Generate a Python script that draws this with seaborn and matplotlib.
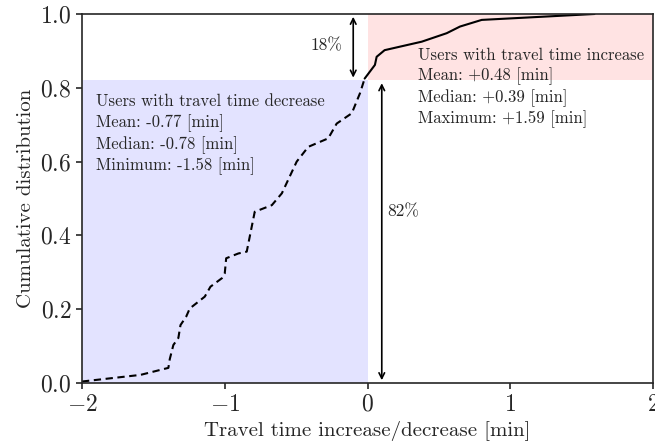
import matplotlib
matplotlib.use("Agg")
import matplotlib.pyplot as plt
import seaborn as sns
import pandas as pd

# data
neg_x = [-2.0, -1.59, -1.395, -1.385, -1.36, -1.325, -1.31, -1.27, -1.245, -1.14, -1.10,
         -1.02, -1.0, -0.99, -0.905, -0.846, -0.79, -0.67, -0.60, -0.496, -0.415,
         -0.275, -0.216, -0.11, -0.053, -0.02]
neg_y = [0.004, 0.022, 0.041, 0.065, 0.103, 0.122, 0.157, 0.18, 0.202, 0.234, 0.261,
         0.284, 0.297, 0.338, 0.351, 0.356, 0.464, 0.482, 0.514, 0.60, 0.64,
         0.663, 0.703, 0.731, 0.785, 0.825]
pos_x = [-0.02, 0.052, 0.064, 0.12, 0.38, 0.555, 0.648, 0.80, 1.59]
pos_y = [0.825, 0.862, 0.884, 0.902, 0.925, 0.948, 0.966, 0.984, 1.0]
share_decrease = 0.82
share_increase = 0.18
dec_lines = ["Users with travel time decrease", "Mean: -0.77 [min]",
             "Median: -0.78 [min]", "Minimum: -1.58 [min]"]
inc_lines = ["Users with travel time increase", "Mean: +0.48 [min]",
             "Median: +0.39 [min]", "Maximum: +1.59 [min]"]

sns.set_style("ticks")
plt.rcParams["font.family"] = ["serif"]
plt.rcParams["font.serif"] = ["cmr10"]
plt.rcParams["mathtext.fontset"] = "cm"
plt.rcParams["axes.formatter.use_mathtext"] = True
plt.rcParams["axes.unicode_minus"] = True

fig = plt.figure(figsize=(6.55, 4.48), dpi=100)
ax = fig.add_axes([82/655, 65/448, 571/655, 369/448])

ax.fill_between([-2, 0], 0, share_decrease, color="blue", alpha=0.11, lw=0)
ax.fill_between([0, 2], share_decrease, 1, color="red", alpha=0.11, lw=0)

dneg = pd.DataFrame({"x": neg_x, "y": neg_y})
dpos = pd.DataFrame({"x": pos_x, "y": pos_y})
sns.lineplot(data=dneg, x="x", y="y", ax=ax, color="black", lw=1.5,
             linestyle=(0, (3.5, 2.2)), sort=False, estimator=None)
sns.lineplot(data=dpos, x="x", y="y", ax=ax, color="black", lw=1.5,
             sort=False, estimator=None)

ax.annotate("", xy=(-0.1, 1.0), xytext=(-0.1, share_decrease),
            arrowprops=dict(arrowstyle="<->", color="black", lw=1.2,
                            shrinkA=2, shrinkB=2))
ax.annotate("", xy=(0.1, share_decrease), xytext=(0.1, 0.0),
            arrowprops=dict(arrowstyle="<->", color="black", lw=1.2,
                            shrinkA=2, shrinkB=2))
ax.text(-0.29, 0.915, "18%", ha="center", va="center", fontsize=12.5)
ax.text(0.25, 0.464, "82%", ha="center", va="center", fontsize=12.5)

dec_y = [0.764, 0.703, 0.644, 0.588]
for t, yy in zip(dec_lines, dec_y):
    ax.text(-1.9, yy, t, ha="left", va="center", fontsize=12)
inc_y = [0.889, 0.832, 0.772, 0.715]
for t, yy in zip(inc_lines, inc_y):
    ax.text(0.355, yy, t, ha="left", va="center", fontsize=12)

ax.set_xlim(-2, 2)
ax.set_ylim(0, 1)
ax.set_xticks([-2, -1, 0, 1, 2])
ax.set_yticks([0.0, 0.2, 0.4, 0.6, 0.8, 1.0])
ax.set_yticklabels(["$0.0$", "$0.2$", "$0.4$", "$0.6$", "$0.8$", "$1.0$"])
ax.tick_params(labelsize=17, width=1.2, length=4)
for s in ax.spines.values():
    s.set_linewidth(1.2)
ax.set_xlabel("Travel time increase/decrease [min]", fontsize=15)
ax.set_ylabel("Cumulative distribution", fontsize=15)

fig.savefig("out.png", dpi=100)
